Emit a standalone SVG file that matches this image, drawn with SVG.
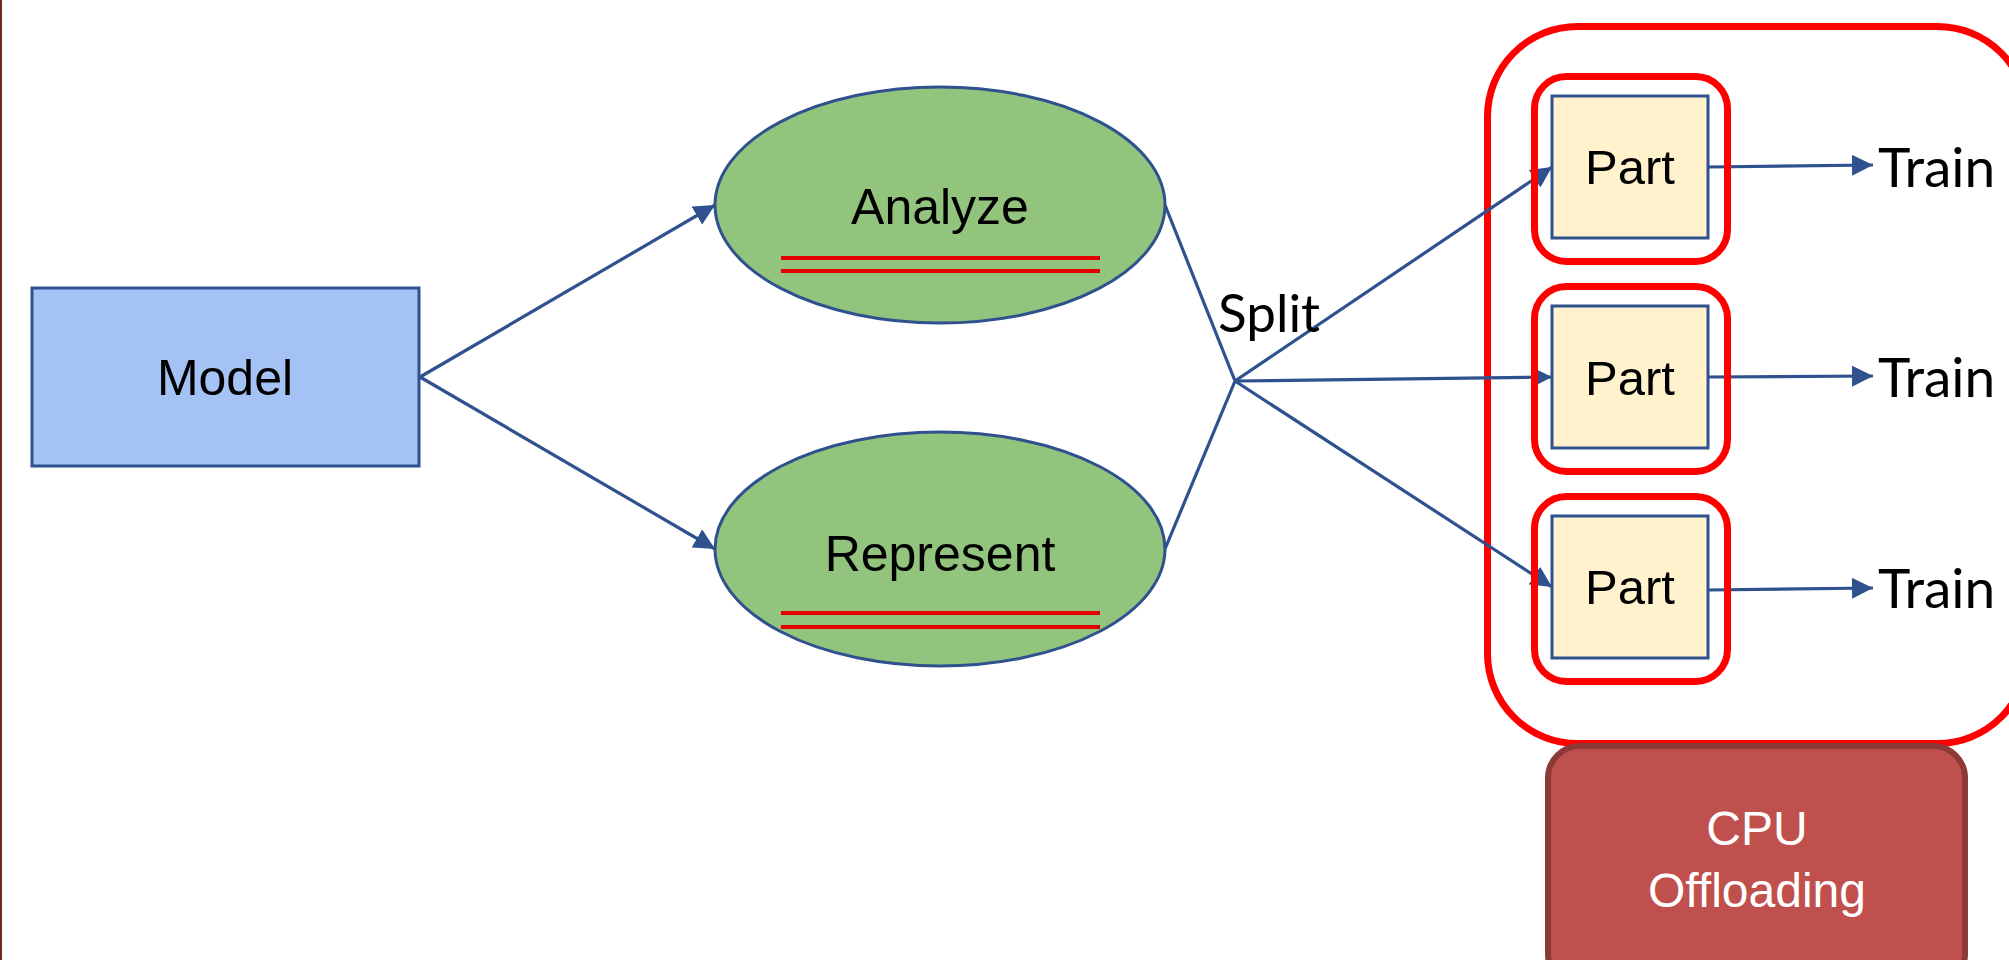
<svg xmlns="http://www.w3.org/2000/svg" width="2009" height="960" viewBox="0 0 2009 960">
  <defs>
    <marker id="arrow" viewBox="0 0 21 21" refX="21" refY="10.5" markerWidth="21" markerHeight="21" markerUnits="userSpaceOnUse" orient="auto">
      <path d="M0,0 L21,10.5 L0,21 z" fill="#2F528F"/>
    </marker>
    <style>
      .edge { stroke: #2F528F; stroke-width: 3.2; fill: none; }
      .sans { font-family: "Liberation Sans", Arial, sans-serif; }
      .human { font-family: Lato, "Noto Sans", sans-serif; }
      .lbl { font-size: 50px; fill: #000; text-anchor: middle; }
      .ellipse { fill: #93C47D; stroke: #2F528F; stroke-width: 3; }
      .part { fill: #FFF2CC; stroke: #2F528F; stroke-width: 3; }
      .hl { fill: none; stroke: #FF0000; stroke-width: 7; }
      .underline { stroke: #E00000; stroke-width: 4; }
      .train { font-size: 55px; fill: #000; }
    </style>
  </defs>

  <rect x="0" y="0" width="2009" height="960" fill="#FFFFFF"/>
  <!-- left page border -->
  <rect x="0" y="0" width="2" height="960" fill="#6E2B20"/>

  <!-- outer group box around the parts -->
  <g id="group-parts">
    <rect x="1487.5" y="26.5" width="540" height="717" rx="90" ry="90" class="hl"/>
  </g>

  <!-- CPU offloading box -->
  <g id="cpu-offloading">
    <rect x="1548" y="746" width="417" height="240" rx="32" ry="32" fill="#C0504D" stroke="#8C3A37" stroke-width="6"/>
    <text x="1757" y="845" class="sans" font-size="48" fill="#FFFFFF" text-anchor="middle">CPU</text>
    <text x="1757" y="907" class="sans" font-size="48" fill="#FFFFFF" text-anchor="middle">Offloading</text>
  </g>

  <!-- connectors -->
  <g id="connectors">
    <line x1="420" y1="377" x2="715" y2="205" class="edge" marker-end="url(#arrow)"/>
    <line x1="420" y1="377" x2="715" y2="549" class="edge" marker-end="url(#arrow)"/>
    <polyline points="1165,205 1235,381 1165,549" class="edge"/>
    <line x1="1235" y1="381" x2="1552" y2="167" class="edge" marker-end="url(#arrow)"/>
    <line x1="1235" y1="381" x2="1552" y2="377" class="edge" marker-end="url(#arrow)"/>
    <line x1="1235" y1="381" x2="1552" y2="587" class="edge" marker-end="url(#arrow)"/>
    <line x1="1708" y1="167" x2="1873" y2="165" class="edge" marker-end="url(#arrow)"/>
    <line x1="1708" y1="377" x2="1873" y2="376" class="edge" marker-end="url(#arrow)"/>
    <line x1="1708" y1="590" x2="1873" y2="588" class="edge" marker-end="url(#arrow)"/>
  </g>

  <g id="model">
    <rect x="32" y="288" width="387" height="178" fill="#A4C2F4" stroke="#2F528F" stroke-width="3"/>
    <text x="225" y="395" class="sans lbl">Model</text>
  </g>

  <g id="analyze">
    <ellipse cx="940" cy="205" rx="225" ry="118" class="ellipse"/>
    <text x="940" y="224" class="sans lbl">Analyze</text>
    <line x1="781" y1="258" x2="1100" y2="258" class="underline"/>
    <line x1="781" y1="271" x2="1100" y2="271" class="underline"/>
  </g>

  <g id="represent">
    <ellipse cx="940" cy="549" rx="225" ry="117" class="ellipse"/>
    <text x="940" y="571" class="sans lbl">Represent</text>
    <line x1="781" y1="613" x2="1100" y2="613" class="underline"/>
    <line x1="781" y1="627" x2="1100" y2="627" class="underline"/>
  </g>

  <g id="split-label">
    <text x="1218" y="332" class="human" font-size="53" fill="#000">Split</text>
  </g>

  <g id="part-1">
    <rect x="1552" y="96" width="156" height="142" class="part"/>
    <text x="1630" y="184" class="sans" font-size="49" text-anchor="middle">Part</text>
    <rect x="1534.5" y="76.5" width="193" height="185" rx="32" ry="32" class="hl"/>
  </g>
  <g id="part-2">
    <rect x="1552" y="306" width="156" height="142" class="part"/>
    <text x="1630" y="395" class="sans" font-size="49" text-anchor="middle">Part</text>
    <rect x="1534.5" y="286.5" width="193" height="185" rx="32" ry="32" class="hl"/>
  </g>
  <g id="part-3">
    <rect x="1552" y="516" width="156" height="142" class="part"/>
    <text x="1630" y="604" class="sans" font-size="49" text-anchor="middle">Part</text>
    <rect x="1534.5" y="496.5" width="193" height="185" rx="32" ry="32" class="hl"/>
  </g>

  <g id="train-1"><text x="1878" y="187" class="human train">Train</text></g>
  <g id="train-2"><text x="1878" y="397" class="human train">Train</text></g>
  <g id="train-3"><text x="1878" y="608" class="human train">Train</text></g>
</svg>
